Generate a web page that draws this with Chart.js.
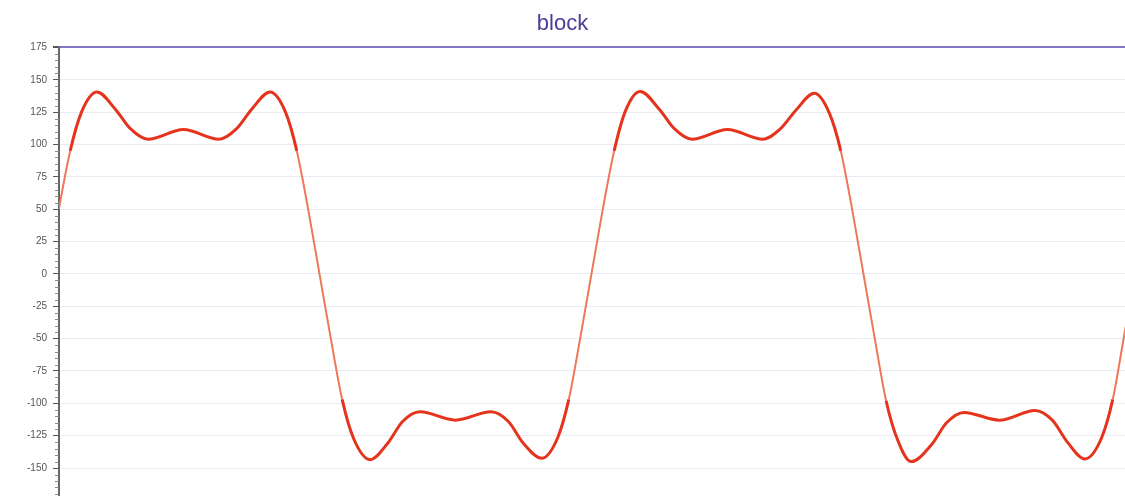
<!DOCTYPE html>
<html>
<head>
<meta charset="utf-8">
<script src="https://cdn.jsdelivr.net/npm/chart.js@4/dist/chart.umd.min.js"></script>
<style>
  html, body { margin: 0; padding: 0; background: #ffffff; overflow: hidden; }
  #wrap { width: 1125px; height: 496px; position: relative; }
</style>
</head>
<body>
<div id="wrap"><canvas id="blockChart"></canvas></div>
<script>
// phase in degrees (two periods, cut at both ends)
const phase = [
    0, 7.5, 15, 22.5, 32.7, 45, 55, 66.5, 90, 113.5, 125, 135, 147.3, 157.5, 165, 172.5,
    180, 187.5, 195, 202.5, 213.5, 225, 235, 246.5, 270, 293.5, 305, 315, 327, 337.5, 345, 352.5,
    360, 367.5, 375, 382.5, 392.2, 405, 415, 426.5, 450, 473.5, 485, 495, 507.5, 517.5, 525, 532.5,
    540, 547.5, 555, 562.5, 571.5, 585, 595, 606.5, 630, 653.5, 665, 675, 686.5, 697.5, 705, 712.5, 720
];
const signal = [
    0, 50, 95, 125, 140.5, 127, 112, 104, 111.5, 104, 112, 127, 140.5, 125, 95, 50,
    0, -50, -97, -127, -143.5, -131, -114, -106.5, -113, -106.5, -114, -131, -142.5, -127, -97, -50,
    0, 50, 95, 126, 141, 127, 112, 104, 111.5, 104, 112, 126, 139.5, 124, 95, 50,
    0, -50, -98, -128, -145, -132, -115, -107, -113, -105.5, -113, -130, -143, -127, -97, -48, 0
];
const yTicks = [175, 150, 125, 100, 75, 50, 25, 0, -25, -50, -75, -100, -125, -150];
const chartTitle = 'block';

const points = phase.map((p, i) => ({ x: p, y: signal[i] }));

// small minor ticks on the left of the y axis
const minorTicks = {
    id: 'minorTicks',
    afterDraw(chart) {
        const y = chart.scales.y;
        const ctx = chart.ctx;
        const left = chart.chartArea.left;
        ctx.save();
        ctx.strokeStyle = '#8a8a8a';
        ctx.lineWidth = 1;
        for (let v = -170; v <= 175; v += 5) {
            if (v % 25 === 0) continue;
            const py = Math.round(y.getPixelForValue(v)) + 0.5;
            ctx.beginPath();
            ctx.moveTo(left - 4, py);
            ctx.lineTo(left, py);
            ctx.stroke();
        }
        ctx.restore();
    }
};

const steep = (c) => Math.min(Math.abs(c.p0.parsed.y), Math.abs(c.p1.parsed.y)) < 90;

new Chart(document.getElementById('blockChart'), {
    type: 'line',
    data: {
        datasets: [{
            data: points,
            borderColor: '#e5341d',
            borderWidth: 3,
            pointRadius: 0,
            cubicInterpolationMode: 'monotone',
            segment: {
                borderColor: c => steep(c) ? '#ee7758' : undefined,
                borderWidth: c => steep(c) ? 2 : undefined
            }
        }]
    },
    options: {
        responsive: true,
        maintainAspectRatio: false,
        animation: false,
        layout: { padding: 0 },
        plugins: {
            legend: { display: false },
            tooltip: { enabled: false },
            title: {
                display: true,
                text: chartTitle,
                color: '#4b3d98',
                font: { family: 'Liberation Sans', size: 22, weight: 'normal' },
                padding: { top: 11, bottom: 10 }
            }
        },
        scales: {
            x: {
                type: 'linear',
                display: false,
                min: 7.6,
                max: 713.1
            },
            y: {
                min: -171.6,
                max: 175,
                afterBuildTicks: (scale) => {
                    scale.ticks = yTicks.map(v => ({ value: v }));
                },
                afterFit: (scale) => {
                    scale.width = 59;
                    scale.paddingTop = 0;
                    scale.paddingBottom = 0;
                },
                border: { display: true, color: '#666666', width: 2 },
                grid: {
                    color: c => c.tick && c.tick.value === 175 ? '#8477c8' : '#ebe9f2',
                    lineWidth: c => c.tick && c.tick.value === 175 ? 2 : 1,
                    tickLength: 6,
                    tickColor: '#555555'
                },
                ticks: {
                    padding: 6,
                    color: '#555555',
                    font: { family: 'Liberation Sans', size: 10 }
                }
            }
        }
    },
    plugins: [minorTicks]
});
</script>
</body>
</html>
